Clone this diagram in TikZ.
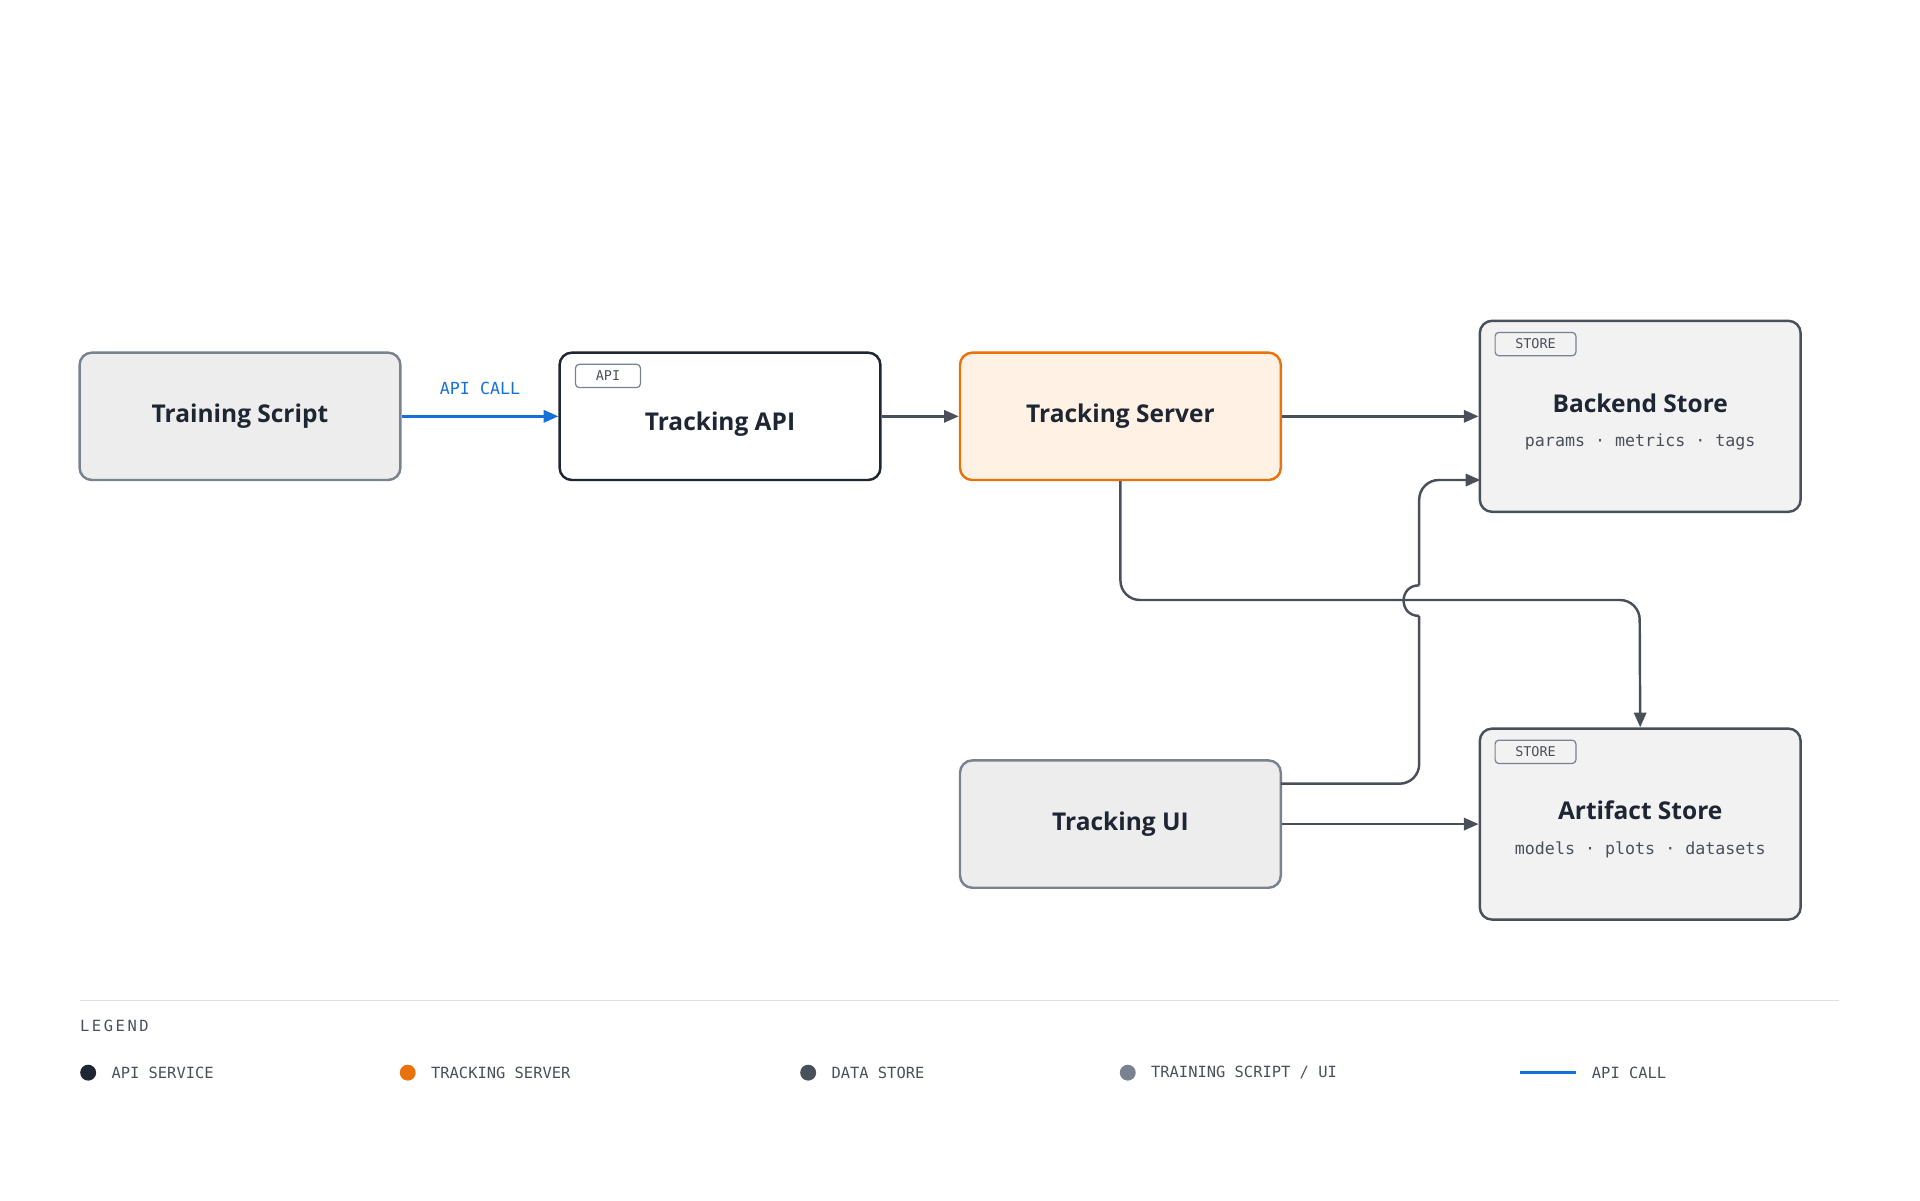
\documentclass[tikz,border=0pt]{standalone}
\usepackage{fontspec}
\setmainfont{Open Sans}
\newfontfamily\monof{DejaVu Sans Mono}
\usetikzlibrary{arrows.meta}
\definecolor{dk}{HTML}{1E2533}
\definecolor{gb}{HTML}{7A8290}
\definecolor{ds}{HTML}{4A505A}
\definecolor{org}{HTML}{E8720C}
\definecolor{blu}{HTML}{1570D8}
\definecolor{txt}{HTML}{4A505A}
\tikzset{
 box/.style={draw, rounded corners=5pt, line width=1pt, minimum width=131pt, minimum height=52pt, inner sep=0pt},
 ttl/.style={font=\fontsize{10}{12}\selectfont\bfseries, text=dk},
 tag/.style={draw=gb, rounded corners=1.5pt, line width=0.5pt, minimum width=33pt, minimum height=9.5pt, inner sep=0pt, font=\monof\fontsize{5.5}{6}\selectfont, text=txt},
 sub/.style={font=\monof\fontsize{6.8}{8}\selectfont, text=txt},
 conn/.style={draw=ds, line width=1pt},
 arr/.style={-{Triangle[length=6pt,width=5pt]}},
 leg/.style={font=\monof\fontsize{6.3}{7}\selectfont, text=txt, anchor=west},
}
\begin{document}
\begin{tikzpicture}[x=0.5pt,y=-0.5pt]
\useasboundingbox (0,0) rectangle (1568,980);
\node[box, draw=gb, fill=black!7] (ts) at (196,340) {};
\node[ttl] at (ts) {Training Script};
\node[box, draw=dk, fill=white] (api) at (588,340) {};
\node[tag, minimum width=26.5pt] at (496.5,307) {API};
\node[ttl] at (588,346) {Tracking API};
\node[box, draw=org, fill=orange!10!white] (srv) at (915,340) {};
\node[ttl] at (srv) {Tracking Server};
\node[box, draw=ds, fill=black!5, minimum height=78pt] (bs) at (1339.5,340) {};
\node[tag] at (1254,281) {STORE};
\node[ttl] at (1339.5,329) {Backend Store};
\node[sub] at (1339.5,361) {params · metrics · tags};
\node[box, draw=ds, fill=black!5, minimum height=78pt] (as) at (1339.5,673) {};
\node[tag] at (1254,614) {STORE};
\node[ttl] at (1339.5,662) {Artifact Store};
\node[sub] at (1339.5,694) {models · plots · datasets};
\node[box, draw=gb, fill=black!7] (ui) at (915,673) {};
\node[ttl] at (ui) {Tracking UI};
% edges
\draw[draw=blu, line width=1pt, arr] (ts.east) -- node[above=5pt, font=\monof\fontsize{6.8}{8}\selectfont, text=blu]{API CALL} (api.west);
\draw[conn, arr] (api.east) -- (srv.west);
\draw[conn, arr] (srv.east) -- (bs.west);
\draw[conn, arr] (ui.east) -- (as.west);
\draw[conn, arr, rounded corners=8pt] (srv.south) -- (915,490) -- (1339,490) -- (as.north);
\coordinate (u1) at (1046,640);
\draw[conn, rounded corners=8pt] (u1) -- (1159,640) -- (1159,503);
\draw[conn] (1159,503) .. controls (1142,503) and (1142,478) .. (1159,478);
\coordinate (b1) at (1209,392);
\draw[conn, arr, rounded corners=8pt] (1159,478) -- (1159,392) -- (b1);
% legend
\draw[draw=black!12, line width=0.6pt] (65,817) -- (1502,817);
\node[leg, inner sep=0] at (65,838) {L\,E\,G\,E\,N\,D};
\fill[dk] (72,876) circle (6.5);
\node[leg] at (84,876) {API SERVICE};
\fill[org] (333,876) circle (6.5);
\node[leg] at (345,876) {TRACKING SERVER};
\fill[ds] (660,876) circle (6.5);
\node[leg] at (672,876) {DATA STORE};
\fill[gb] (921,876) circle (6.5);
\node[leg] at (933,876) {TRAINING SCRIPT / UI};
\draw[blu, line width=1pt] (1241,876) -- (1287,876);
\node[leg] at (1293,876) {API CALL};
\end{tikzpicture}
\end{document}
